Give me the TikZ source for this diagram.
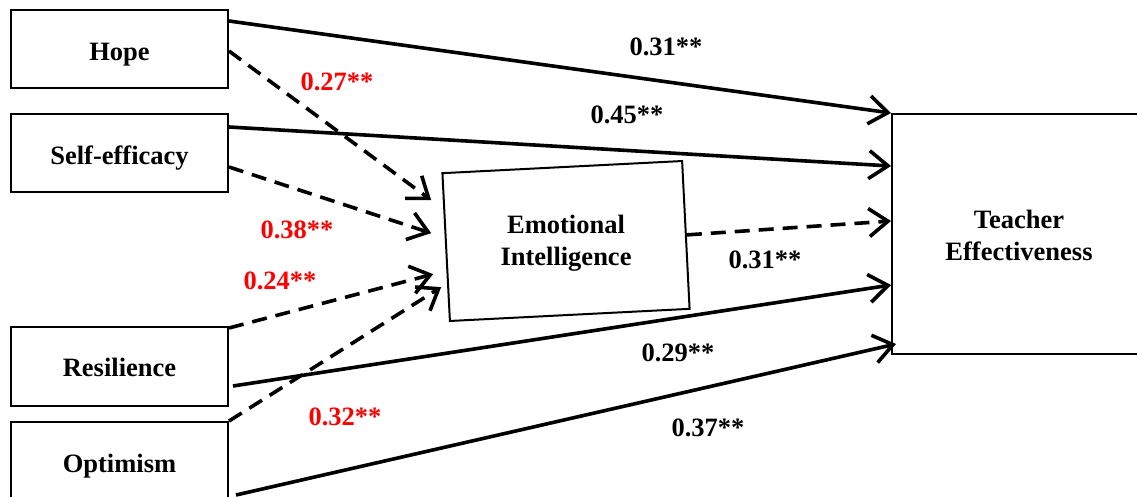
\documentclass[tikz,border=0pt]{standalone}
\usepackage{fontspec}
\setmainfont{Liberation Serif}
\usetikzlibrary{arrows.meta,calc}
\begin{document}
\begin{tikzpicture}[x=1pt,y=-1pt,
  box/.style={draw, line width=2pt, minimum width=217pt, minimum height=78pt, inner sep=0pt, text height=22pt, text depth=0pt, font=\fontsize{26.5}{32}\selectfont\bfseries, align=center},
  lbl/.style={font=\fontsize{26.5}{32}\selectfont\bfseries, inner sep=0pt, align=center},
  rlbl/.style={lbl, text=red},
  arr/.style={line width=3.6pt, -{Straight Barb[length=19pt,width=28pt,line width=3.6pt]}},
  darr/.style={arr, dash pattern=on 15pt off 9pt}]
\useasboundingbox (0,0) rectangle (1137,496);
\clip (0,0) rectangle (1137,496);
% boxes
\node[box] (hope) at (119.5,49) {Hope};
\node[box] (self) at (119.5,153) {Self-efficacy};
\node[box, minimum height=79pt, text height=19pt] (resil) at (119.5,366.5) {Resilience};
\node[box] (optim) at (119.5,461) {Optimism};
\node[draw, line width=2pt, minimum width=254pt, minimum height=240pt] (te) at (1019,234) {};
\node[lbl] (tet) at (1019,235) {Teacher\\Effectiveness};
\node[draw, line width=2pt, minimum width=240pt, minimum height=148pt, inner sep=0pt, rotate=2.9] (ei) at (566,241) {};
\node[lbl] (eit) at (566,243.5) {Emotional\\Intelligence};
% direct paths to TE
\draw[arr] ([yshift=-12pt]hope.north east) -- (te.north west);
\draw[arr] ([yshift=-14pt]self.north east) -- ([yshift=-53pt]te.north west);
\draw[darr] (ei.east) -- ([yshift=-108pt]te.north west);
\draw[arr] ([xshift=4pt,yshift=-60pt]resil.north east) -- ([yshift=-172pt]te.north west);
\draw[arr] ([xshift=7pt,yshift=-74pt]optim.north east) -- ([xshift=5pt,yshift=-231pt]te.north west);
% paths to EI
\draw[darr] ([yshift=-42pt]hope.north east) -- ($(ei.west)+(-14,-47)$);
\draw[darr] ([yshift=-54pt]self.north east) -- ($(ei.west)+(-14,-14)$);
\draw[darr] ([yshift=-2pt]resil.north east) -- ($(ei.west)+(-12,27)$);
\draw[darr] (optim.north east) -- ($(ei.west)+(-4,40)$);
% labels
\node[lbl] (l1) at (666,47) {0.31**};
\node[lbl] (l2) at (627,115) {0.45**};
\node[lbl] (l3) at (765,260) {0.31**};
\node[lbl] (l4) at (678,353) {0.29**};
\node[lbl] (l5) at (708,428) {0.37**};
\node[rlbl] (r1) at (337,82) {0.27**};
\node[rlbl] (r2) at (297,230) {0.38**};
\node[rlbl] (r3) at (280,281) {0.24**};
\node[rlbl] (r4) at (345,417) {0.32**};
\end{tikzpicture}
\end{document}
